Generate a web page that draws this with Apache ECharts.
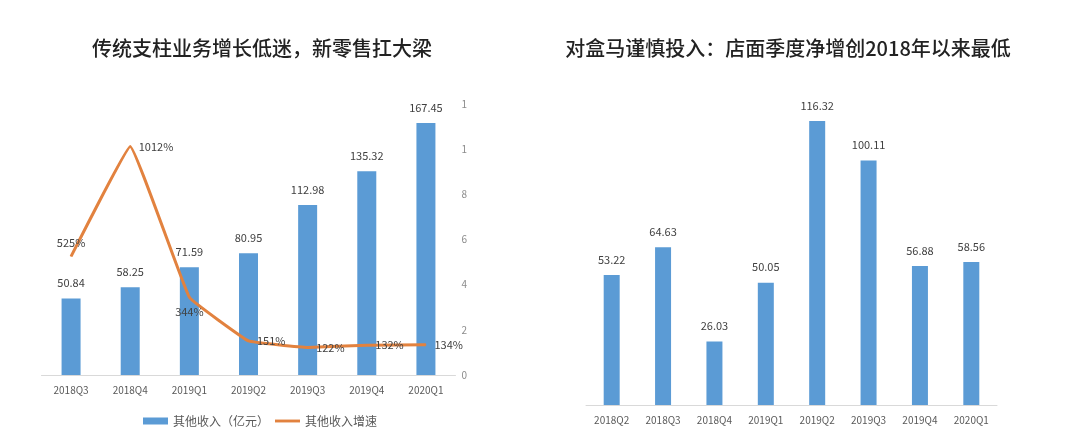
<!DOCTYPE html>
<html>
<head>
<meta charset="utf-8">
<script src="https://cdn.jsdelivr.net/npm/echarts@6/dist/echarts.min.js"></script>
<style>
  html, body { margin: 0; padding: 0; background: #fff; }
  #leftClip { position: absolute; left: 0; top: 0; width: 467px; height: 443px; overflow: hidden; }
  #left { width: 524px; height: 443px; }
  #right { position: absolute; left: 528px; top: 0; width: 520px; height: 443px; }
</style>
</head>
<body>
<div id="leftClip"><div id="left"></div></div>
<div id="right"></div>
<script>
// left chart data
const left_quarters = ["2018Q3", "2018Q4", "2019Q1", "2019Q2", "2019Q3", "2019Q4", "2020Q1"];
const other_income = [50.84, 58.25, 71.59, 80.95, 112.98, 135.32, 167.45];
const other_growth = [525, 1012, 344, 151, 122, 132, 134];

// right chart data
const right_quarters = ["2018Q2", "2018Q3", "2018Q4", "2019Q1", "2019Q2", "2019Q3", "2019Q4", "2020Q1"];
const store_net_add = [53.22, 64.63, 26.03, 50.05, 116.32, 100.11, 56.88, 58.56];

const FONT = "'Noto Sans CJK SC', 'Noto Sans', sans-serif";
const BLUE = "#5B9BD5";
const ORANGE = "#E2823F";

const titleStyle = {
  fontSize: 20,
  fontWeight: 500,
  color: "#222",
  fontFamily: FONT
};

// growth label positions, as in the picture
const growth_label_pos = ["top", "right", "bottom", "right", "right", "right", "right"];

const leftOption = {
  animation: false,
  textStyle: { fontFamily: FONT },
  title: {
    text: "传统支柱业务增长低迷，新零售扛大梁",
    left: "center",
    top: 33,
    textStyle: titleStyle
  },
  legend: {
    left: 138,
    top: 410,
    itemGap: 6,
    itemWidth: 25,
    itemHeight: 7,
    textStyle: { fontSize: 12, color: "#595959", fontFamily: FONT },
    data: [
      { name: "其他收入（亿元）", icon: "rect" },
      { name: "其他收入增速", icon: "path://M0,0 L26,0 L26,3 L0,3 Z", itemStyle: { color: ORANGE } }
    ]
  },
  grid: { left: 41.5, right: 68.5, top: 104, bottom: 68 },
  xAxis: {
    type: "category",
    data: left_quarters,
    axisLine: { lineStyle: { color: "#d9d9d9" } },
    axisTick: { show: false },
    axisLabel: { color: "#595959", fontSize: 10, margin: 10 }
  },
  yAxis: [
    { type: "value", min: 0, max: 180, interval: 30, show: false },
    {
      type: "value", min: 0, max: 1200, interval: 200, position: "right",
      axisLine: { show: false }, axisTick: { show: false }, splitLine: { show: false },
      axisLabel: { color: "#8c8c8c", fontSize: 10, margin: 6, formatter: "{value}%" }
    }
  ],
  series: [
    {
      name: "其他收入（亿元）",
      type: "bar",
      barWidth: 19,
      data: other_income,
      itemStyle: { color: BLUE },
      label: { show: true, position: "top", distance: 10, color: "#404040", fontSize: 11 }
    },
    {
      name: "其他收入增速",
      type: "line",
      yAxisIndex: 1,
      smooth: 0.07,
      symbol: "circle",
      symbolSize: 1,
      showSymbol: true,
      data: other_growth.map((v, i) => ({
        value: v,
        label: { position: growth_label_pos[i] }
      })),
      lineStyle: { color: ORANGE, width: 3 },
      itemStyle: { color: ORANGE },
      label: { show: true, formatter: "{c}%", color: "#404040", fontSize: 11, distance: 8 }
    }
  ]
};

const rightOption = {
  animation: false,
  textStyle: { fontFamily: FONT },
  title: {
    text: "对盒马谨慎投入：店面季度净增创2018年以来最低",
    left: "center",
    top: 33,
    textStyle: titleStyle
  },
  grid: { left: 58, right: 51, top: 112, bottom: 38 },
  xAxis: {
    type: "category",
    data: right_quarters,
    axisLine: { lineStyle: { color: "#d9d9d9" } },
    axisTick: { show: false },
    axisLabel: { color: "#595959", fontSize: 10, margin: 10 }
  },
  yAxis: { type: "value", min: 0, max: 120, interval: 20, show: false },
  series: [
    {
      type: "bar",
      barWidth: 16,
      data: store_net_add,
      itemStyle: { color: BLUE },
      label: { show: true, position: "top", distance: 10, color: "#404040", fontSize: 11 }
    }
  ]
};

const leftChart = echarts.init(document.getElementById("left"));
leftChart.setOption(leftOption);
const rightChart = echarts.init(document.getElementById("right"));
rightChart.setOption(rightOption);
</script>
</body>
</html>
